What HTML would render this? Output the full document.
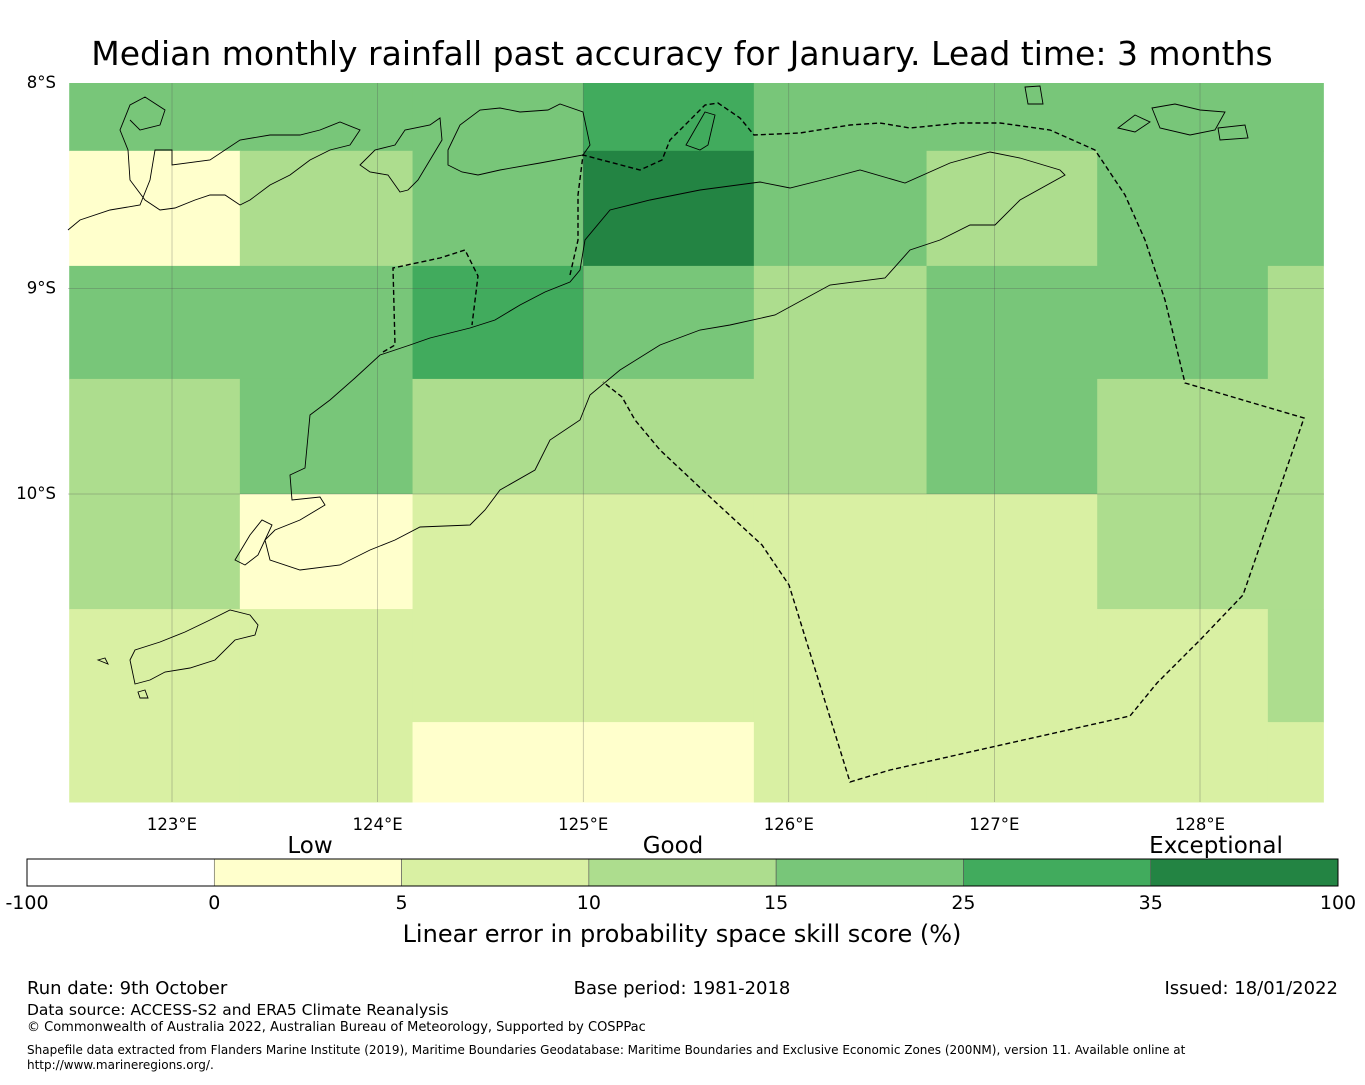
<!DOCTYPE html>
<html><head><meta charset="utf-8"><style>
html,body{margin:0;padding:0;background:#fff;}
body{width:1365px;height:1080px;overflow:hidden;font-family:"Liberation Sans","DejaVu Sans",sans-serif;}
</style></head><body>
<svg id="chart" width="1365" height="1080" xmlns="http://www.w3.org/2000/svg" font-family="DejaVu Sans, Liberation Sans, sans-serif">
<text x="682" y="65" text-anchor="middle" font-size="33">Median monthly rainfall past accuracy for January. Lead time: 3 months</text>
<g id="cells"></g>
<g id="grid"></g>
<g fill="none" stroke="#000" stroke-width="0.9">
<path d="M292,500 L290,475 L305,468 L310,415 L330,400 L355,378 L380,355 L410,345 L430,338 L470,328 L495,320 L520,305 L545,292 L570,282 L580,270 L585,240 L610,210 L650,200 L700,190 L760,182 L790,188 L830,178 L860,170 L905,183 L950,163 L990,152 L1020,158 L1060,170 L1065,175 L1020,200 L995,225 L970,225 L940,240 L910,250 L885,278 L830,285 L775,315 L730,325 L700,330 L660,345 L620,370 L590,395 L580,420 L550,440 L535,470 L500,490 L485,510 L470,525 L420,527 L395,540 L370,550 L340,565 L300,570 L270,560 L265,540 L275,530 L300,520 L325,505 L320,497 Z"/>
<path d="M448,150 L460,125 L480,110 L500,108 L520,112 L548,110 L560,104 L583,112 L590,145 L583,155 L540,163 L500,170 L478,175 L462,172 L448,165 Z"/>
<path d="M360,165 L375,150 L395,145 L405,130 L430,125 L440,118 L442,140 L430,160 L418,180 L408,190 L400,192 L388,175 L370,172 Z"/>
<path d="M68,230 L80,220 L110,210 L140,205 L150,180 L155,150 L172,150 L172,165 L210,160 L240,140 L270,135 L300,135 L320,130 L340,122 L360,130 L350,145 L330,150 L310,160 L290,175 L270,185 L250,200 L240,205 L225,195 L210,195 L195,200 L175,208 L160,210 L145,200 L130,180 L128,150 L120,130 L130,105 L145,97 L165,110 L160,125 L140,130 L130,120"/>
<path d="M686,145 L705,112 L715,115 L708,145 L700,150 Z"/>
<path d="M130,660 L135,650 L160,642 L185,632 L210,620 L230,610 L250,615 L258,625 L255,635 L235,640 L215,660 L190,668 L165,672 L150,680 L135,684 Z"/>
<path d="M235,560 L250,535 L262,520 L272,525 L265,540 L258,555 L245,565 Z"/>
<path d="M1025,87 L1040,86 L1043,104 L1028,104 Z"/>
<path d="M1118,128 L1135,115 L1150,122 L1135,132 Z M1152,108 L1175,104 L1200,110 L1225,112 L1215,130 L1190,135 L1160,128 Z M1218,128 L1245,125 L1248,138 L1220,140 Z"/>
<path d="M98,660 L105,658 L108,664 Z M138,692 L145,690 L148,698 L140,698 Z"/>
</g>
<g fill="none" stroke="#000" stroke-width="1.4" stroke-dasharray="5,3">
<path d="M383,352 L395,345 L393,268 L440,258 L465,250 L478,276 L472,325"/>
<path d="M570,275 L578,240 L578,195 L583,155 L640,170 L662,160 L670,140 L690,120 L705,105 L718,103 L740,118 L754,135 L800,133 L850,125 L880,123 L910,128 L960,123 L1000,123 L1050,130 L1095,150 L1125,195 L1145,240 L1165,300 L1185,383 L1304,418 L1243,595 L1200,640 L1157,683 L1130,716 L890,770 L850,782 L789,585 L762,545 L710,497 L660,450 L635,420 L622,397 L603,382"/>
</g>
<g id="axes" font-size="16.5"></g>
<g id="cbar"></g>
<text x="310" y="853" text-anchor="middle" font-size="23">Low</text>
<text x="673" y="853" text-anchor="middle" font-size="23">Good</text>
<text x="1216" y="853" text-anchor="middle" font-size="23">Exceptional</text>
<text x="682" y="942" text-anchor="middle" font-size="24">Linear error in probability space skill score (%)</text>
<text x="27" y="994" font-size="18">Run date: 9th October</text>
<text x="682" y="994" text-anchor="middle" font-size="18">Base period: 1981-2018</text>
<text x="1338" y="994" text-anchor="end" font-size="18">Issued: 18/01/2022</text>
<text x="27" y="1015" font-size="15.5">Data source: ACCESS-S2 and ERA5 Climate Reanalysis</text>
<text x="27" y="1031" font-size="13">© Commonwealth of Australia 2022, Australian Bureau of Meteorology, Supported by COSPPac</text>
<text x="27" y="1054" font-size="12">Shapefile data extracted from Flanders Marine Institute (2019), Maritime Boundaries Geodatabase: Maritime Boundaries and Exclusive Economic Zones (200NM), version 11. Available online at</text>
<text x="27" y="1069" font-size="12">http://www.marineregions.org/.</text>
</svg>
<script>
// Data
const lonTicks = [123,124,125,126,127,128];
const latTicks = [8,9,10];
const cellLonEdges = [122.5,123.33,124.17,125.0,125.83,126.67,127.5,128.33,128.6];
const cellLatEdges = [8.0,8.33,8.89,9.44,10.0,10.56,11.11,11.5];
const skillRow0 = [20,20,20,30,20,20,20,20];
const skillRow1 = [3,12,20,40,20,12,20,20];
const skillRow2 = [20,20,30,20,12,20,20,12];
const skillRow3 = [12,20,12,12,12,20,12,12];
const skillRow4 = [12,3,7,7,7,7,12,12];
const skillRow5 = [7,7,7,7,7,7,7,12];
const skillRow6 = [7,7,3,3,7,7,7,7];
const cbBounds = [-100,0,5,10,15,25,35,100];
const cbColors = ['#ffffff','#ffffcc','#d9f0a3','#addd8e','#78c679','#41ab5d','#238443'];

const NS='http://www.w3.org/2000/svg';
const X0=68,X1=1324,Y0=83,Y1=802;
function xScale(lon){return 172+(lon-123)*205.6;}
function yScale(lat){return 83+(lat-8)*205.5;}
function colorFor(v){for(let i=cbBounds.length-2;i>=0;i--){if(v>=cbBounds[i])return cbColors[i];}return cbColors[0];}
function mk(tag,attrs,parent){const e=document.createElementNS(NS,tag);for(const k in attrs)e.setAttribute(k,attrs[k]);parent.appendChild(e);return e;}
function cx(lon){return Math.min(X1,Math.max(X0,xScale(lon)));}
function cy(lat){return Math.min(Y1,Math.max(Y0,yScale(lat)));}

const rows=[skillRow0,skillRow1,skillRow2,skillRow3,skillRow4,skillRow5,skillRow6];
const cells=document.getElementById('cells');
rows.forEach((row,r)=>{row.forEach((v,c)=>{
  const x=cx(cellLonEdges[c]),x2=cx(cellLonEdges[c+1]),y=cy(cellLatEdges[r]),y2=cy(cellLatEdges[r+1]);
  const e=mk('rect',{x:x,y:y,width:x2-x+0.5,height:y2-y+0.5,fill:colorFor(v)},cells);
  
  
});});

const grid=document.getElementById('grid');
const axes=document.getElementById('axes');
lonTicks.forEach(l=>{
  const x=xScale(l);
  const ln=mk('line',{x1:x,x2:x,y1:Y0,y2:Y1,stroke:'#555','stroke-width':0.5,'stroke-opacity':0.6},grid);
  
  
  const t=mk('text',{x:x,y:830,'text-anchor':'middle'},axes);
  t.textContent=l+'°E';
  
  
});
latTicks.forEach(l=>{
  const y=yScale(l);
  if(l>8){const ln=mk('line',{x1:X0,x2:X1,y1:y,y2:y,stroke:'#555','stroke-width':0.5,'stroke-opacity':0.6},grid);
  
  }
  const t=mk('text',{x:56,y:y+5,'text-anchor':'end'},axes);
  t.textContent=l+'°S';
  
  
});

const cbar=document.getElementById('cbar');
const CB0=27,CB1=1338,CBY=859,CBH=27;
const segW=(CB1-CB0)/cbColors.length;
cbColors.forEach((c,i)=>{
  const r=mk('rect',{x:CB0+i*segW,y:CBY,width:segW,height:CBH,fill:c,stroke:'#555','stroke-width':0.6},cbar);
  
  
});
mk('rect',{x:CB0,y:CBY,width:CB1-CB0,height:CBH,fill:'none',stroke:'#000','stroke-width':1},cbar);
cbBounds.forEach((b,i)=>{
  const t=mk('text',{x:CB0+i*segW,y:909,'text-anchor':'middle','font-size':19},cbar);
  t.textContent=String(b);
  
  
});
</script>
</body></html>
